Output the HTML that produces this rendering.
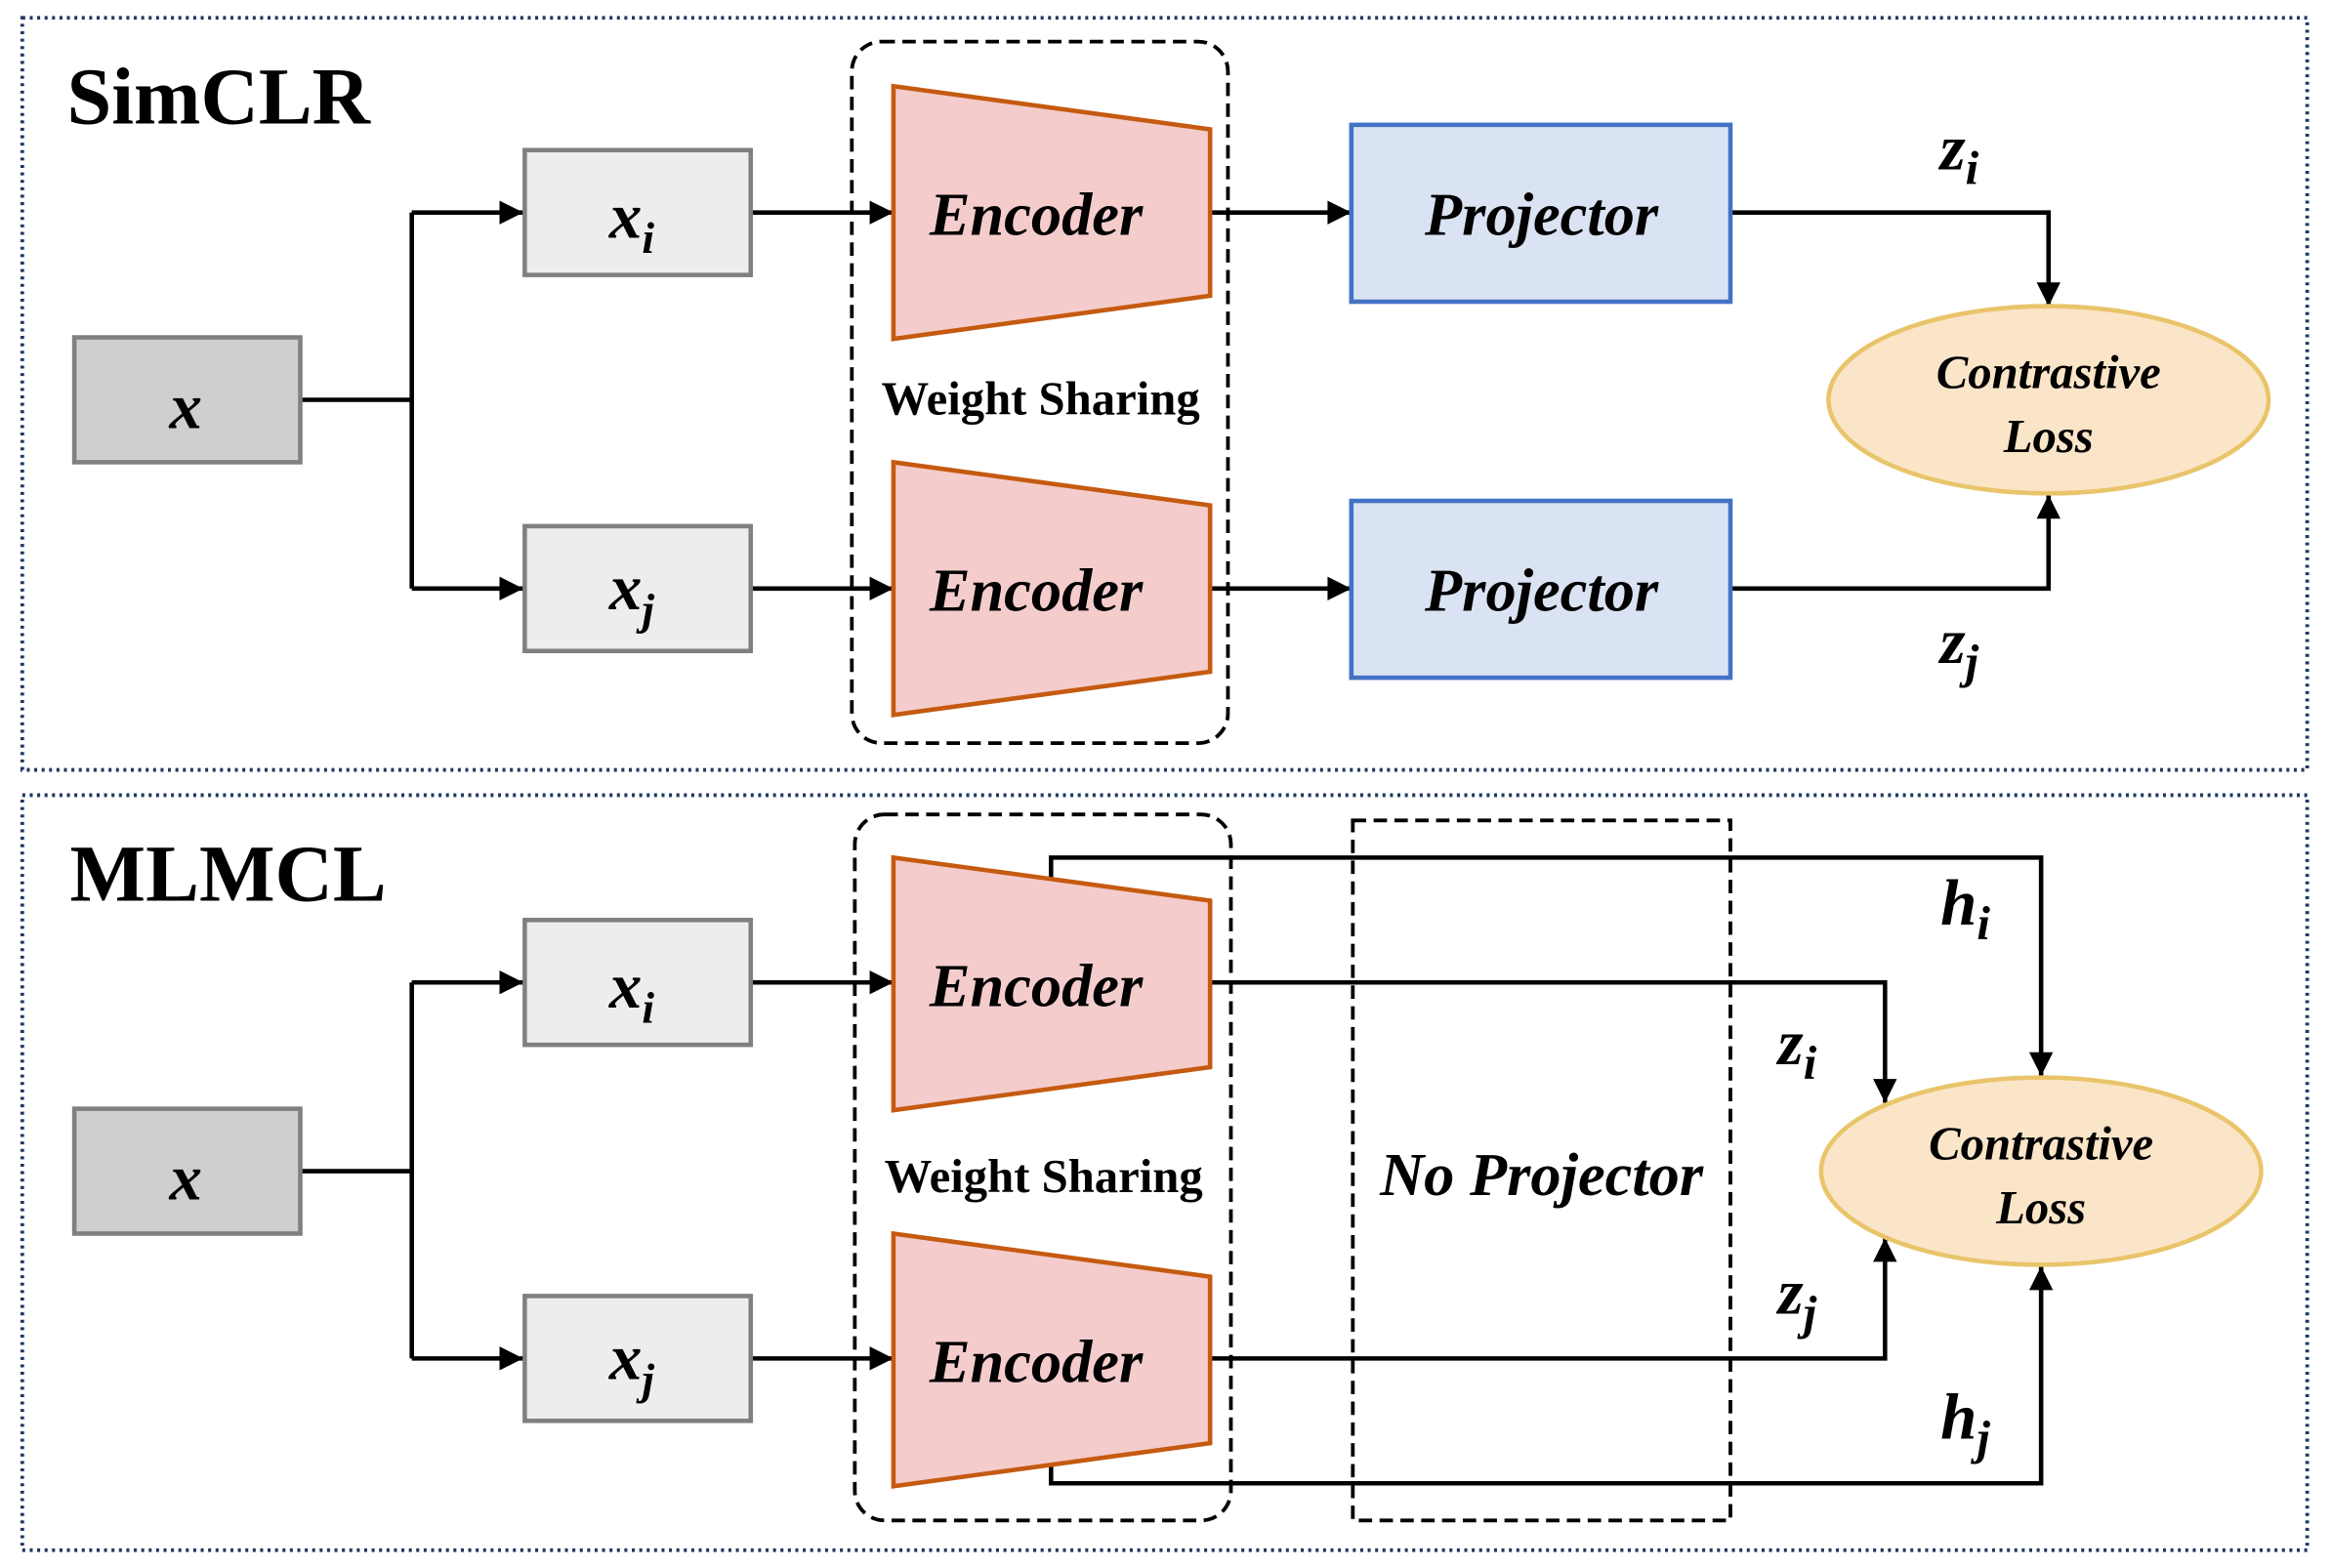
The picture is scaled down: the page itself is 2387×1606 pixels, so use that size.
<!DOCTYPE html>
<html><head><style>html,body{margin:0;padding:0;background:#fff}svg{display:block}</style></head><body>
<svg width="2387" height="1606" viewBox="0 0 1568 1055" preserveAspectRatio="none" xmlns="http://www.w3.org/2000/svg" font-family="Liberation Serif, serif">
<defs>
<marker id="b" viewBox="0 0 10 10" markerWidth="18" markerHeight="16" refX="10" refY="5" orient="auto" markerUnits="userSpaceOnUse"><path d="M0,0 L10,5 L0,10 z" fill="#000"/></marker></defs>
<rect x="15" y="12" width="1537" height="506" fill="none" stroke="#1f3864" stroke-width="2.5" stroke-dasharray="2,3"/>
<rect x="15" y="535" width="1537" height="508" fill="none" stroke="#1f3864" stroke-width="2.5" stroke-dasharray="2,3"/>
<g font-weight="bold"><text x="45" y="83" font-size="54">SimCLR</text><text x="47" y="606" font-size="54">MLMCL</text></g>
<g stroke="#000" stroke-width="3" fill="none">
<path d="M202,269H277M277,143V396"/><path d="M277,143H352" marker-end="url(#b)"/><path d="M277,396H352" marker-end="url(#b)"/>
<path d="M505,143H601" marker-end="url(#b)"/><path d="M505,396H601" marker-end="url(#b)"/>
<path d="M814,143H909" marker-end="url(#b)"/><path d="M814,396H909" marker-end="url(#b)"/>
<path d="M1164,143H1378V206" marker-end="url(#b)"/><path d="M1164,396H1378V333" marker-end="url(#b)"/>
<path d="M202,788H277M277,661V914"/><path d="M277,661H352" marker-end="url(#b)"/><path d="M277,914H352" marker-end="url(#b)"/>
<path d="M505,661H601" marker-end="url(#b)"/><path d="M505,914H601" marker-end="url(#b)"/>
<path d="M707,591V577H1373V724" marker-end="url(#b)"/>
<path d="M814,661H1268V742" marker-end="url(#b)"/>
<path d="M814,914H1268V833" marker-end="url(#b)"/>
<path d="M707,985V998H1373V852" marker-end="url(#b)"/>
</g>
<g stroke="#808080" stroke-width="3">
<rect x="50" y="227" width="152" height="84" fill="#d0cece"/>
<rect x="353" y="101" width="152" height="84" fill="#ededed"/>
<rect x="353" y="354" width="152" height="84" fill="#ededed"/>
<rect x="50" y="746" width="152" height="84" fill="#d0cece"/>
<rect x="353" y="619" width="152" height="84" fill="#ededed"/>
<rect x="353" y="872" width="152" height="84" fill="#ededed"/>
</g>
<g fill="#f4cccc" stroke="#c55a11" stroke-width="3">
<path d="M601,58L814,87V199L601,228z"/><path d="M601,311L814,340V452L601,481z"/>
<path d="M601,577L814,606V718L601,747z"/><path d="M601,830L814,859V971L601,1000z"/>
</g>
<g fill="#dae3f3" stroke="#4472c4" stroke-width="3">
<rect x="909" y="84" width="255" height="119"/><rect x="909" y="337" width="255" height="119"/>
</g>
<g fill="#fbe5c8" stroke="#e9c46a" stroke-width="3">
<ellipse cx="1378" cy="269" rx="148" ry="63"/><ellipse cx="1373" cy="788" rx="148" ry="63"/>
</g>
<g fill="none" stroke="#000" stroke-width="2.5" stroke-dasharray="9,5">
<rect x="573" y="28" width="253" height="472" rx="20"/>
<rect x="575" y="548" width="253" height="475" rx="20"/>
<rect x="910" y="552" width="254" height="471"/>
</g>
<g font-weight="bold" font-style="italic" text-anchor="middle">
<text x="125" y="288" font-size="44">x</text>
<text x="425" y="160" font-size="44">x<tspan font-size="30" dy="10">i</tspan></text>
<text x="425" y="410" font-size="44">x<tspan font-size="30" dy="10">j</tspan></text>
<text x="125" y="807" font-size="44">x</text>
<text x="425" y="678" font-size="44">x<tspan font-size="30" dy="10">i</tspan></text>
<text x="425" y="928" font-size="44">x<tspan font-size="30" dy="10">j</tspan></text>
<g font-size="41"><text x="697" y="158">Encoder</text><text x="697" y="411">Encoder</text><text x="697" y="677">Encoder</text><text x="697" y="930">Encoder</text>
<text x="1037" y="158">Projector</text><text x="1037" y="411">Projector</text>
<text x="1037" y="804">No Projector</text></g>
<g font-size="32"><text x="1378" y="261">Contrastive</text><text x="1378" y="304">Loss</text>
<text x="1373" y="780">Contrastive</text><text x="1373" y="823">Loss</text></g>
<g font-size="44"><text x="1318" y="114">z<tspan font-size="32" dy="10">i</tspan></text>
<text x="1318" y="446">z<tspan font-size="32" dy="10">j</tspan></text>
<text x="1322" y="622">h<tspan font-size="32" dy="10">i</tspan></text>
<text x="1209" y="716">z<tspan font-size="32" dy="10">i</tspan></text>
<text x="1209" y="884">z<tspan font-size="32" dy="10">j</tspan></text>
<text x="1322" y="968">h<tspan font-size="32" dy="10">j</tspan></text></g>
</g>
<g font-weight="bold" font-size="32" text-anchor="middle"><text x="700" y="279">Weight Sharing</text><text x="702" y="802">Weight Sharing</text></g>
</svg>
</body></html>
